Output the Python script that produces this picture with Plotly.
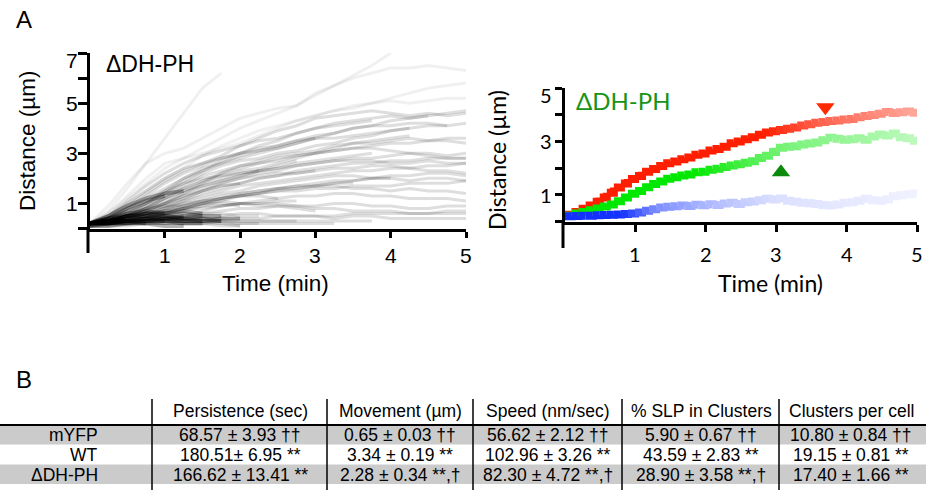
import numpy as np
import plotly.graph_objects as go

W, H = 926, 490

# ---------------------------------------------------------------------------
# Panel A (left): single ΔDH-PH cluster trajectories, distance in µm,
# sampled every 0.25 min (a track stops when the cluster is lost)
# ---------------------------------------------------------------------------
TRACK_TIME = [0.0, 0.25, 0.5, 0.75, 1.0, 1.25, 1.5, 1.75, 2.0, 2.25, 2.5,
              2.75, 3.0, 3.25, 3.5, 3.75, 4.0, 4.25, 4.5, 4.75, 5.0]

TRACK_01 = [0.2, 0.7, 1.6, 2.6, 3.6, 4.6, 5.6, 6.2]
TRACK_02 = [0.2, 0.9, 1.8, 2.6, 3.0, 3.2, 3.6, 4.0, 4.4, 4.6, 4.8, 4.9, 5.3, 5.7, 6.1, 6.5, 7.0]
TRACK_03 = [0.2, 0.6, 1.2, 1.8, 2.4, 2.8, 3.2, 3.6, 4.0, 4.3, 4.6, 4.9, 5.4, 5.7, 6.0, 6.2, 6.4, 6.4, 6.5, 6.4, 6.3]
TRACK_04 = [0.2, 0.5, 1.0, 1.5, 2.0, 2.4, 2.9, 3.3, 3.6, 3.9, 4.1, 4.3, 4.5, 4.7, 4.8, 5.0, 5.1, 5.0, 5.1, 5.2, 5.2]
TRACK_05 = [0.2, 0.4, 0.8, 1.2, 1.6, 2.0, 2.3, 2.6, 2.8, 3.0, 3.2, 3.4, 3.6, 3.8, 4.0, 4.1, 4.1, 4.2, 4.2, 4.1]
TRACK_06 = [0.2, 0.5, 0.9, 1.4, 1.9, 2.3, 2.6, 2.9, 3.3, 3.6, 3.9, 4.1, 4.4, 4.5, 4.6, 4.7, 4.6, 4.5, 4.6, 4.5, 4.6]
TRACK_07 = [0.2, 0.3, 0.6, 1.0, 1.5, 2.0, 2.4, 2.6, 2.9, 3.1, 3.2, 3.4, 3.6, 3.6, 3.7, 3.8, 3.9, 4.0]
TRACK_08 = [0.2, 0.3, 0.5, 0.8, 1.2, 1.6, 1.9, 2.2, 2.5, 2.7, 2.9, 3.0, 3.1, 3.3, 3.4, 3.4, 3.5, 3.6, 3.5, 3.6, 3.6]
TRACK_09 = [0.2, 0.3, 0.4, 0.7, 1.0, 1.4, 1.8, 2.2, 2.4, 2.6, 2.7, 2.9, 3.0, 3.1, 3.2, 3.2, 3.1, 3.0, 2.9, 2.8, 2.8]
TRACK_10 = [0.2, 0.3, 0.5, 0.9, 1.3, 1.7, 2.1, 2.3, 2.5, 2.6, 2.8, 2.9, 3.0, 3.1, 3.2, 3.3, 3.4, 3.4, 3.5, 3.5, 3.4]
TRACK_11 = [0.2, 0.2, 0.4, 0.6, 0.9, 1.2, 1.5, 1.8, 2.0, 2.2, 2.3, 2.5, 2.6, 2.7, 2.8, 2.8, 2.9, 3.0, 3.0, 2.9, 3.0]
TRACK_12 = [0.2, 0.2, 0.3, 0.5, 0.8, 1.1, 1.4, 1.6, 1.8, 2.0, 2.1, 2.2, 2.3, 2.4, 2.4, 2.5, 2.5, 2.4, 2.3, 2.3, 2.2]
TRACK_13 = [0.2, 0.3, 0.4, 0.6, 0.8, 1.0, 1.2, 1.4, 1.5, 1.7, 1.8, 1.9, 2.0, 2.1, 2.1, 2.0, 2.0, 1.9, 2.0, 2.0, 1.9]
TRACK_14 = [0.2, 0.2, 0.3, 0.4, 0.6, 0.8, 1.0, 1.2, 1.4, 1.5, 1.6, 1.6, 1.7, 1.7, 1.6, 1.6, 1.5, 1.6, 1.5, 1.5, 1.4]
TRACK_15 = [0.2, 0.4, 0.8, 1.3, 1.8, 2.2, 2.5, 2.8, 3.0, 3.2, 3.3, 3.5, 3.7, 3.8, 4.0, 4.1, 4.3, 4.4, 4.5, 4.6, 4.7]
TRACK_16 = [0.2, 0.5, 1.1, 1.7, 2.2, 2.6, 2.9, 3.1, 3.3, 3.5, 3.6, 3.8, 4.0, 4.1, 4.2, 4.3]
TRACK_17 = [0.2, 0.6, 1.3, 2.0, 2.6, 2.8, 3.0, 3.2, 3.4, 3.7, 4.0, 4.3, 4.5, 4.7, 4.9, 5.0, 5.2, 5.4, 5.6, 5.7, 5.8]
TRACK_18 = [0.2, 0.3, 0.5, 0.8, 1.2, 1.5, 1.8, 2.0, 2.2, 2.3, 2.4, 2.6, 2.7, 2.8, 2.9, 3.0]
TRACK_19 = [0.2, 0.2, 0.3, 0.4, 0.5, 0.7, 0.9, 1.1, 1.3, 1.4, 1.5, 1.6, 1.7, 1.8, 1.9, 2.0, 2.1, 2.1, 2.2, 2.2, 2.1]
TRACK_20 = [0.2, 0.2, 0.3, 0.3, 0.4, 0.5, 0.7, 0.9, 1.0, 1.1, 1.2, 1.3, 1.3, 1.4, 1.4, 1.3, 1.3, 1.2, 1.2, 1.2, 1.1]
TRACK_21 = [0.2, 0.3, 0.5, 0.7, 1.0, 1.3, 1.6, 1.8, 2.0, 2.1, 2.2, 2.2, 2.3]
TRACK_22 = [0.2, 0.3, 0.6, 0.9, 1.2, 1.5, 1.7, 1.9, 2.1, 2.3, 2.5, 2.7]
TRACK_23 = [0.2, 0.2, 0.3, 0.5, 0.7, 0.9, 1.1, 1.2, 1.3, 1.3, 1.2]
TRACK_24 = [0.2, 0.3, 0.4, 0.6, 0.7, 0.8, 0.9, 0.9, 1.0, 1.0, 1.0, 0.9, 0.9, 1.0, 1.0, 0.9, 0.9, 0.8, 0.8, 0.9, 0.9]
TRACK_25 = [0.2, 0.2, 0.2, 0.3, 0.4, 0.5, 0.6, 0.7, 0.8, 0.8, 0.9, 0.9, 0.8, 0.8, 0.7, 0.7, 0.7, 0.6, 0.6, 0.6, 0.6]
TRACK_26 = [0.2, 0.2, 0.3, 0.3, 0.4, 0.4, 0.5, 0.5, 0.6, 0.6, 0.5, 0.5, 0.5, 0.4, 0.5, 0.5, 0.4, 0.4, 0.4, 0.4, 0.4]
TRACK_27 = [0.2, 0.3, 0.4, 0.5, 0.6, 0.8, 1.0, 1.1, 1.0, 0.9, 0.9, 0.8, 0.7]
TRACK_28 = [0.2, 0.4, 0.7, 1.0, 1.3, 1.6, 1.9, 2.1, 2.2, 2.3]
TRACK_29 = [0.2, 0.3, 0.5, 0.8, 1.0, 1.3, 1.5, 1.7, 1.8]
TRACK_30 = [0.2, 0.4, 0.7, 1.1, 1.5, 1.8, 2.0, 2.1, 2.3, 2.4, 2.6, 2.8, 3.0, 3.2, 3.4, 3.5, 3.6, 3.7]
TRACK_31 = [0.2, 0.3, 0.4, 0.4, 0.3]
TRACK_32 = [0.2, 0.3, 0.5, 0.6, 0.5, 0.4]
TRACK_33 = [0.2, 0.2, 0.3, 0.3, 0.3, 0.2, 0.2]
TRACK_34 = [0.2, 0.4, 0.6, 0.7, 0.6]
TRACK_35 = [0.2, 0.3, 0.3, 0.4, 0.4, 0.4, 0.3, 0.3]
TRACK_36 = [0.2, 0.2, 0.2, 0.3, 0.3, 0.3, 0.3, 0.4, 0.4]
TRACK_37 = [0.2, 0.3, 0.5, 0.5, 0.6, 0.6, 0.5]
TRACK_38 = [0.2, 0.2, 0.3, 0.4, 0.5, 0.5, 0.6, 0.6, 0.5, 0.5]
TRACK_39 = [0.2, 0.3, 0.4, 0.3, 0.3, 0.4, 0.4, 0.3, 0.3, 0.3, 0.3, 0.3]
TRACK_40 = [0.2, 0.2, 0.2, 0.2, 0.2, 0.3, 0.3, 0.3, 0.2, 0.2, 0.2, 0.2, 0.2, 0.2]
TRACK_41 = [0.2, 0.5, 0.9, 1.2, 1.4, 1.5]
TRACK_42 = [0.2, 0.4, 0.8, 1.1, 1.3]
TRACK_43 = [0.1, 0.2, 0.2, 0.3, 0.3, 0.3, 0.4, 0.4, 0.4, 0.4, 0.5, 0.5, 0.5, 0.5, 0.6, 0.6, 0.6, 0.6, 0.6, 0.7, 0.7]
TRACK_44 = [0.1, 0.1, 0.2, 0.2, 0.2, 0.2, 0.2, 0.3, 0.3, 0.3, 0.3, 0.3, 0.3, 0.3, 0.3, 0.3]
TRACK_45 = [0.2, 0.3, 0.6, 1.0, 1.4, 1.9, 2.3, 2.7, 3.0, 3.3, 3.5, 3.8, 4.0, 4.2, 4.3, 4.4, 4.5, 4.4, 4.5]
TRACK_46 = [0.2, 0.3, 0.5, 0.8, 1.1, 1.4, 1.7, 1.9, 2.1, 2.3, 2.4, 2.5, 2.6, 2.7, 2.7, 2.7, 2.6, 2.6, 2.7, 2.6, 2.6]
TRACK_47 = [0.2, 0.2, 0.3, 0.4, 0.6, 0.8, 1.0, 1.2, 1.3, 1.4, 1.6, 1.7, 1.8, 1.9, 1.9, 2.0, 2.0]
TRACK_48 = [0.2, 0.3, 0.3, 0.2]
TRACK_49 = [0.2, 0.2, 0.3, 0.4, 0.4, 0.5]
TRACK_50 = [0.1, 0.2, 0.3, 0.3, 0.4, 0.3, 0.3]
TRACK_51 = [0.2, 0.3, 0.5, 0.6, 0.6, 0.7, 0.6]
TRACK_52 = [0.2, 0.2, 0.2, 0.3, 0.3, 0.2, 0.2, 0.2, 0.1]
TRACK_53 = [0.1, 0.1, 0.2, 0.2, 0.1, 0.1]
TRACK_54 = [0.2, 0.4, 0.5, 0.5, 0.4, 0.4, 0.5, 0.5]
TRACK_55 = [0.1, 0.2, 0.2, 0.2, 0.3, 0.3, 0.3, 0.2, 0.2, 0.2]
TRACK_56 = [0.2, 0.3, 0.3, 0.4, 0.5, 0.4, 0.4, 0.3]
TRACK_57 = [0.1, 0.1, 0.1, 0.2, 0.2, 0.2, 0.2, 0.1, 0.1]
TRACK_58 = [0.2, 0.4, 0.6, 0.8, 0.9, 0.9, 1.0, 1.0, 0.9]
TRACK_59 = [0.2, 0.3, 0.4, 0.6, 0.7, 0.8, 0.8, 0.9, 1.0, 1.0, 1.1, 1.1]
TRACK_60 = [0.2, 0.3, 0.4, 0.7, 1.0, 1.2, 1.5, 1.7, 1.8, 2.0, 2.1, 2.3, 2.4, 2.5, 2.6, 2.6, 2.7, 2.7, 2.8, 2.8, 2.8]
TRACK_61 = [0.2, 0.4, 0.7, 1.0, 1.4, 1.8, 2.2, 2.5, 2.7, 2.8, 3.0, 3.1, 3.3, 3.4, 3.6, 3.7, 3.9, 4.0, 4.1, 4.1, 4.2]
TRACK_62 = [0.2, 0.3, 0.5, 0.7, 0.9, 1.1, 1.3, 1.5, 1.7, 1.8, 1.9, 2.0, 2.1, 2.2, 2.3, 2.3, 2.4, 2.4, 2.5, 2.5, 2.6]
TRACK_63 = [0.2, 0.3, 0.5, 0.6, 0.8, 1.0, 1.1, 1.3, 1.4, 1.5, 1.6, 1.7, 1.7, 1.8, 1.8]
TRACK_64 = [0.2, 0.5, 1.0, 1.5, 2.0, 2.4, 2.6, 2.8, 3.0, 3.1, 3.3, 3.5, 3.6]
TRACK_65 = [0.2, 0.3, 0.4, 0.5, 0.7, 0.9, 1.1, 1.2, 1.3, 1.4, 1.5, 1.5, 1.6, 1.6, 1.7, 1.7, 1.7, 1.8, 1.8, 1.8, 1.9]

TRACKS = [TRACK_01, TRACK_02, TRACK_03, TRACK_04, TRACK_05, TRACK_06, TRACK_07,
          TRACK_08, TRACK_09, TRACK_10, TRACK_11, TRACK_12, TRACK_13, TRACK_14,
          TRACK_15, TRACK_16, TRACK_17, TRACK_18, TRACK_19, TRACK_20, TRACK_21,
          TRACK_22, TRACK_23, TRACK_24, TRACK_25, TRACK_26, TRACK_27, TRACK_28,
          TRACK_29, TRACK_30, TRACK_31, TRACK_32, TRACK_33, TRACK_34, TRACK_35,
          TRACK_36, TRACK_37, TRACK_38, TRACK_39, TRACK_40, TRACK_41, TRACK_42,
          TRACK_43, TRACK_44, TRACK_45, TRACK_46, TRACK_47, TRACK_48, TRACK_49,
          TRACK_50, TRACK_51, TRACK_52, TRACK_53, TRACK_54, TRACK_55, TRACK_56,
          TRACK_57, TRACK_58, TRACK_59, TRACK_60, TRACK_61, TRACK_62, TRACK_63,
          TRACK_64, TRACK_65]
# the few fast, far-travelling tracks are drawn fainter; the short, nearly
# immobile ones pile up into the dark mass near the origin
FAINT_TRACKS = {0, 1, 2, 3, 16}
SHORT_TRACKS = {30, 31, 32, 33, 34, 35, 36, 40, 41,
                47, 48, 49, 50, 52, 53, 55}

# ---------------------------------------------------------------------------
# Panel A (right): three representative ΔDH-PH tracks, sampled every 0.1 min
# ---------------------------------------------------------------------------
MEAN_TIME = [round(0.1 * i, 1) for i in range(51)]

RED_TRACK = [0.25, 0.36, 0.48, 0.60, 0.74, 0.90, 1.08, 1.27, 1.42, 1.59,
             1.70, 1.86, 1.97, 2.08, 2.18, 2.25, 2.33, 2.40, 2.50, 2.55,
             2.66, 2.72, 2.80, 2.93, 3.00, 3.08, 3.16, 3.25, 3.33, 3.38,
             3.43, 3.47, 3.52, 3.60, 3.64, 3.70, 3.73, 3.76, 3.78, 3.82,
             3.84, 3.90, 3.95, 3.99, 4.04, 4.10, 4.06, 4.09, 4.12, 4.07, 4.02]
GREEN_TRACK = [0.22, 0.30, 0.36, 0.42, 0.49, 0.56, 0.64, 0.76, 0.90, 1.04,
               1.14, 1.28, 1.40, 1.50, 1.60, 1.66, 1.72, 1.76, 1.84, 1.86,
               1.94, 1.98, 2.04, 2.10, 2.14, 2.20, 2.26, 2.38, 2.46, 2.60,
               2.76, 2.80, 2.82, 2.88, 2.92, 2.96, 3.04, 3.14, 3.10, 3.06,
               3.08, 3.12, 3.06, 3.18, 3.26, 3.22, 3.30, 3.16, 3.12, 3.02, 2.94]
BLUE_TRACK = [0.20, 0.21, 0.22, 0.22, 0.23, 0.24, 0.25, 0.26, 0.28, 0.30,
              0.34, 0.40, 0.46, 0.52, 0.55, 0.57, 0.60, 0.58, 0.63, 0.61,
              0.65, 0.62, 0.67, 0.70, 0.66, 0.72, 0.75, 0.80, 0.85, 0.82,
              0.86, 0.78, 0.74, 0.70, 0.68, 0.66, 0.62, 0.60, 0.64, 0.70,
              0.72, 0.78, 0.85, 0.80, 0.78, 0.82, 0.95, 0.98, 1.02, 1.05, 1.08]

# arrowhead markers (min, µm)
ARROW_T = [3.70, 3.07, 1.16]
ARROW_V = [4.28, 1.84, -0.48]

# tick labels
LEFT_X_TICKS = [1, 2, 3, 4, 5]
LEFT_Y_TICKS = [1, 3, 5, 7]
RIGHT_X_TICKS = [1, 2, 3, 4, 5]
RIGHT_Y_TICKS = [1, 3, 5]

# ---------------------------------------------------------------------------
# Panel B: table
# ---------------------------------------------------------------------------
COLUMN_HEADERS = ["Persistence (sec)", "Movement (µm)", "Speed (nm/sec)",
                  "% SLP in Clusters", "Clusters per cell"]
ROW_LABELS = ["mYFP", "WT", "ΔDH-PH"]
PERSISTENCE = ["68.57 ± 3.93 ††", "180.51± 6.95 **", "166.62 ± 13.41 **"]
MOVEMENT = ["0.65 ± 0.03 ††", "3.34 ± 0.19 **", "2.28 ± 0.34 **,†"]
SPEED = ["56.62 ± 2.12 ††", "102.96 ± 3.26 **", "82.30 ± 4.72 **,†"]
SLP_IN_CLUSTERS = ["5.90 ± 0.67 ††", "43.59 ± 2.83 **", "28.90 ± 3.58 **,†"]
CLUSTERS_PER_CELL = ["10.80 ± 0.84 ††", "19.15 ± 0.81 **", "17.40 ± 1.66 **"]

# ---------------------------------------------------------------------------
ARIAL = "Liberation Sans, Arial, sans-serif"
CALIB = "Lato, Open Sans, sans-serif"


def px(x):
    return x / W


def py(y):
    return 1 - y / H


fig = go.Figure()

# left panel: overlapping translucent trajectories
for k, tr in enumerate(TRACKS):
    if k in FAINT_TRACKS:
        alpha, width = 0.06, 3
    elif k in SHORT_TRACKS:
        alpha, width = 0.30, 4
    else:
        alpha, width = 0.13, 3
    fig.add_trace(go.Scatter(
        x=TRACK_TIME[:len(tr)], y=tr, mode="lines",
        line=dict(color="rgba(0,0,0,%.2f)" % alpha, width=width),
        hoverinfo="skip", xaxis="x", yaxis="y"))

# right panel: thick stepped tracks that fade out with time
BASE_RGB = {"red": (255, 30, 0), "green": (0, 232, 0), "blue": (20, 50, 255)}
FADE = {
    "red": ([0.0, 2.8, 3.6, 5.0], [0.0, 0.0, 0.3, 0.62]),
    "green": ([0.0, 1.8, 3.0, 5.0], [0.0, 0.0, 0.45, 0.75]),
    "blue": ([0.0, 0.8, 1.3, 2.0, 3.0, 5.0], [0.0, 0.0, 0.45, 0.65, 0.85, 0.94]),
}


def faded(name, t):
    r, g, b = BASE_RGB[name]
    w = float(np.interp(t, *FADE[name]))
    return "rgb(%d,%d,%d)" % (r + (255 - r) * w, g + (255 - g) * w, b + (255 - b) * w)


for name, values in (("red", RED_TRACK), ("green", GREEN_TRACK), ("blue", BLUE_TRACK)):
    for i in range(len(values) - 1):
        tm = 0.5 * (MEAN_TIME[i] + MEAN_TIME[i + 1])
        fig.add_trace(go.Scatter(
            x=MEAN_TIME[i:i + 2], y=values[i:i + 2], mode="lines",
            line=dict(color=faded(name, tm), width=8, shape="hv"),
            hoverinfo="skip", xaxis="x2", yaxis="y2"))

fig.add_trace(go.Scatter(
    x=ARROW_T, y=ARROW_V, mode="markers", cliponaxis=False,
    marker=dict(symbol=["triangle-down", "triangle-up", "triangle-right"],
                size=16, color=["#ff2a00", "#0b8a0b", "#1030ff"],
                line=dict(width=0)),
    hoverinfo="skip", xaxis="x2", yaxis="y2"))

axis_common = dict(showgrid=False, zeroline=False, showline=True, linecolor="black",
                   linewidth=3, ticks="outside", tickcolor="black", tickwidth=3,
                   showticklabels=False, fixedrange=True)

fig.update_layout(
    width=W, height=H, margin=dict(l=0, r=0, t=0, b=0),
    paper_bgcolor="white", plot_bgcolor="white", showlegend=False,
    xaxis=dict(domain=[px(89.5), px(466)], range=[0, 5], anchor="y",
               tickvals=LEFT_X_TICKS, ticklen=6, **axis_common),
    yaxis=dict(domain=[py(228.5), py(53)], range=[0, 7], anchor="x",
               tickvals=list(range(8)), ticklen=9, **axis_common),
    xaxis2=dict(domain=[px(564.5), px(917)], range=[0, 5], anchor="y2",
                tickvals=RIGHT_X_TICKS, ticklen=7, **axis_common),
    yaxis2=dict(domain=[py(221.5), py(88)], range=[0, 5], anchor="x2",
                tickvals=list(range(6)), ticklen=7, **axis_common),
)

shapes = []
# y-axis lines run on below the origin
shapes.append(dict(type="line", xref="paper", yref="paper", x0=px(88), x1=px(88),
                   y0=py(229), y1=py(253), line=dict(color="black", width=3)))
shapes.append(dict(type="line", xref="paper", yref="paper", x0=px(563), x1=px(563),
                   y0=py(222), y1=py(248), line=dict(color="black", width=3)))

# table bands and rules
ROW_TOP = [425.5, 444.5, 464.5]
ROW_BOT = [444.5, 464.5, 484.0]
ROW_MID = [434.5, 454.5, 474.5]
for k in (0, 2):
    shapes.append(dict(type="rect", xref="paper", yref="paper", layer="below",
                       x0=0, x1=1, y0=py(ROW_BOT[k]), y1=py(ROW_TOP[k]),
                       fillcolor="#cbcbcb", line=dict(width=0)))
shapes.append(dict(type="line", xref="paper", yref="paper", x0=0, x1=1,
                   y0=py(425), y1=py(425), line=dict(color="black", width=2)))
COL_EDGES = [152, 327, 473, 622, 779]
for xe in COL_EDGES:
    shapes.append(dict(type="line", xref="paper", yref="paper", x0=px(xe), x1=px(xe),
                       y0=py(399), y1=py(490), line=dict(color="black", width=1.5)))
fig.update_layout(shapes=shapes)

ann = []


def text(x, y, s, size, family=ARIAL, color="black", xanchor="center", angle=0,
         xref="paper", yref="paper", yshift=0):
    ann.append(dict(x=x, y=y, xref=xref, yref=yref, text=s,
                    showarrow=False, xanchor=xanchor, yanchor="middle",
                    textangle=angle, borderpad=0, yshift=yshift,
                    font=dict(family=family, size=size, color=color)))


text(px(24), py(19), "A", 24)
text(px(24), py(379), "B", 24)

# left panel labels
text(px(105), py(64), "ΔDH-PH", 23, xanchor="left")
text(px(27), py(141), "Distance (µm)", 22.5, angle=-90)
text(px(275), py(283), "Time (min)", 22.5)
for v in LEFT_X_TICKS:
    text(v, py(255.5), str(v), 21, xref="x")
for v in LEFT_Y_TICKS:
    text(px(79), v, str(v), 21, xanchor="right", yref="y",
         yshift=-8 if v == max(LEFT_Y_TICKS) else 0)

# right panel labels
text(px(575), py(100), "ΔDH-PH", 24, family=CALIB, color="#179417", xanchor="left")
text(px(497), py(160), "Distance (µm)", 23, family=CALIB, angle=-90)
text(px(770), py(283), "Time (min)", 23, family=CALIB)
for v in RIGHT_X_TICKS:
    text(v, py(253.5), str(v), 20, family=CALIB, xref="x2")
for v in RIGHT_Y_TICKS:
    text(px(553), v, str(v), 20, family=CALIB, xanchor="right", yref="y2",
         yshift=-7 if v == max(RIGHT_Y_TICKS) else 0)

# table
TABLE_FONT = 17.5
COL_CENTERS = [240, 400, 548, 701, 851]
COLUMNS = [PERSISTENCE, MOVEMENT, SPEED, SLP_IN_CLUSTERS, CLUSTERS_PER_CELL]
for c, head in enumerate(COLUMN_HEADERS):
    text(px(COL_CENTERS[c]), py(411), head, TABLE_FONT)
for r, lab in enumerate(ROW_LABELS):
    text(px(99), py(ROW_MID[r]), lab, TABLE_FONT, xanchor="right")
    for c, col in enumerate(COLUMNS):
        text(px(COL_CENTERS[c]), py(ROW_MID[r]), col[r], TABLE_FONT)

fig.update_layout(annotations=ann)

fig.write_html("out.html")
